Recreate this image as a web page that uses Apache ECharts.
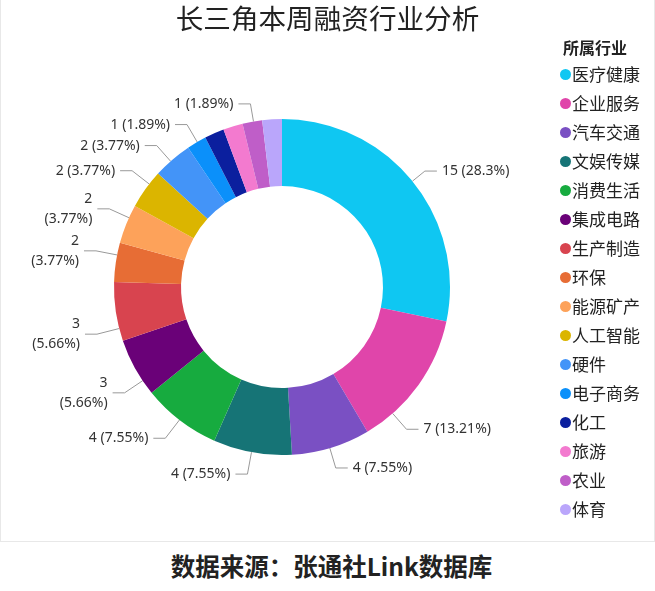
<!DOCTYPE html>
<html>
<head>
<meta charset="utf-8">
<script src="https://cdn.jsdelivr.net/npm/echarts@6/dist/echarts.min.js"></script>
<style>
  html, body { margin: 0; padding: 0; background: #fff; }
  #chart {
    width: 653px;
    height: 541px;
    border: 1px solid #e8e8e8;
    border-top: none;
  }
  #source {
    height: 49px;
    line-height: 47px;
    text-align: center;
    font-family: "Noto Sans CJK SC", sans-serif;
    font-weight: bold;
    font-size: 24.5px;
    color: #222;
    padding-left: 8px;
  }
</style>
</head>
<body>
<div id="chart"></div>
<div id="source">数据来源：张通社Link数据库</div>
<script>
const industries = ['医疗健康', '企业服务', '汽车交通', '文娱传媒', '消费生活', '集成电路', '生产制造', '环保', '能源矿产', '人工智能', '硬件', '电子商务', '化工', '旅游', '农业', '体育']
const counts = [15, 7, 4, 4, 4, 3, 3, 2, 2, 2, 2, 1, 1, 1, 1, 1]
const colorList = ['#0fc7f2', '#e045aa', '#7a50c3', '#167476', '#17ab3f', '#6a0178', '#d8444f', '#e76d35', '#fda25a', '#dbb500', '#4394f8', '#0b90fa', '#0b1f9e', '#f37acf', '#bf5ec8', '#baa6fb']
// labels that the original hides because they overlap
const hiddenLabels = ['化工', '旅游', '体育']
// labels squeezed onto two lines on the left edge
const wrappedLabels = ['集成电路', '生产制造', '环保', '能源矿产']
// small label shifts [dx, dy] so the labels sit where the original put them
const labelNudge = {
  '企业服务': [-25, 35],
  '汽车交通': [0, 5],
  '文娱传媒': [-2, 6],
  '消费生活': [-9, 5],
  '集成电路': [-1, 17],
  '生产制造': [-8, 20],
  '环保': [-9, -9],
  '能源矿产': [-7, -9],
  '人工智能': [-5, -9],
  '硬件': [-6, -5],
  '电子商务': [-5, -4],
  '农业': [1, -2]
}

const pieCenter = [281, 287]
const pieRadius = [101, 168]
const lineLen2 = 12
const lineGap = 5
const total = counts.reduce((a, b) => a + b, 0)

// angular range of a slice, clockwise from 12 o'clock
function sliceRange(i) {
  let before = 0
  for (let k = 0; k < i; k++) before += counts[k]
  return [before / total * 2 * Math.PI, (before + counts[i]) / total * 2 * Math.PI]
}

const chart = echarts.init(document.getElementById('chart'))

const seriesData = industries.map((name, i) => ({
  name: name,
  value: counts[i],
  itemStyle: { color: colorList[i] },
  label: {
    show: hiddenLabels.indexOf(name) < 0,
    formatter: wrappedLabels.indexOf(name) < 0 ? '{c} ({d}%)' : '{c}\n({d}%)'
  },
  labelLine: { show: hiddenLabels.indexOf(name) < 0 }
}))

chart.setOption({
  animation: false,
  title: [
    {
      text: '长三角本周融资行业分析',
      left: 'center',
      top: 0,
      textStyle: {
        fontFamily: 'Noto Sans CJK SC',
        fontSize: 27.6,
        fontWeight: 'normal',
        color: '#222'
      }
    },
    {
      text: '所属行业',
      left: 557,
      top: 35,
      textStyle: {
        fontFamily: 'Noto Sans CJK SC',
        fontSize: 16,
        fontWeight: 'bold',
        color: '#222'
      }
    }
  ],
  legend: {
    orient: 'vertical',
    left: 554,
    top: 59,
    icon: 'circle',
    itemWidth: 11,
    itemHeight: 11,
    itemGap: 8,
    data: industries,
    textStyle: {
      fontFamily: 'Noto Sans CJK SC',
      fontSize: 17,
      color: '#222',
      padding: [0, 0, 0, -4],
      lineHeight: 21
    }
  },
  series: [
    {
      type: 'pie',
      center: pieCenter,
      radius: pieRadius,
      startAngle: 90,
      data: seriesData,
      label: {
        fontFamily: 'Noto Sans',
        fontSize: 14,
        lineHeight: 20,
        color: '#333'
      },
      labelLine: {
        length: 16,
        length2: lineLen2,
        lineStyle: { color: '#999' }
      },
      labelLayout: function (params) {
        const nudge = labelNudge[industries[params.dataIndex]]
        if (!nudge) {
          return {}
        }
        const r = params.labelRect
        const isLeft = params.align === 'right'
        const dir = isLeft ? -1 : 1
        const x = (isLeft ? r.x + r.width : r.x) + nudge[0]
        const y = r.y + r.height / 2 + nudge[1]
        const end = [x - dir * lineGap, y]
        const bend = [end[0] - dir * lineLen2, y]
        // line starts on the slice edge, pointing at the bend
        const range = sliceRange(params.dataIndex)
        let theta = Math.atan2(bend[0] - pieCenter[0], pieCenter[1] - bend[1])
        if (theta < 0) theta += 2 * Math.PI
        theta = Math.min(Math.max(theta, range[0] + 0.01), range[1] - 0.01)
        const R = pieRadius[1]
        const start = [pieCenter[0] + R * Math.sin(theta), pieCenter[1] - R * Math.cos(theta)]
        return {
          x: x,
          y: y,
          labelLinePoints: [start, bend, end]
        }
      }
    }
  ]
})
</script>
</body>
</html>
